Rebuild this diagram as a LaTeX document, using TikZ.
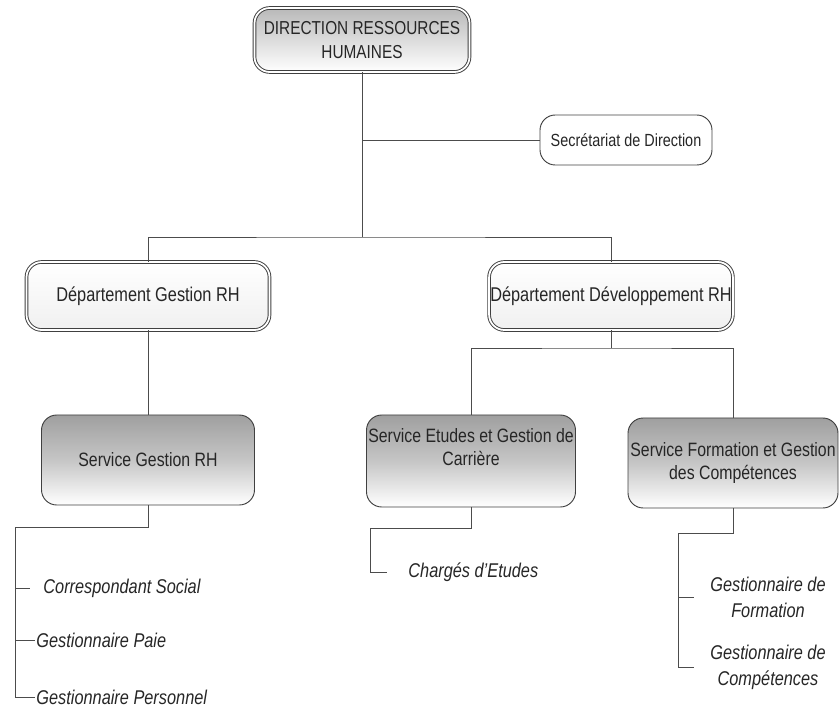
\documentclass[tikz,border=0pt]{standalone}
\usepackage{fontspec}
\setmainfont{Liberation Sans}[FakeStretch=0.82]
\begin{document}
\begin{tikzpicture}[x=0.03cm,y=-0.03cm,
  box/.style={draw=black!75, line width=0.8pt, rounded corners=13pt, align=center, inner sep=1pt,
              font=\fontsize{16.5}{19.5}\selectfont, text=black!85},
  dbox/.style={box, double=white, double distance=1.5pt},
  sbox/.style={box, top color=gray!75, bottom color=white, middle color=gray!45},
  lbl/.style={font=\itshape\fontsize{17}{22}\selectfont, align=center, inner sep=1pt, text=black!85},
  conn/.style={draw=black!70, line width=0.7pt}]
\useasboundingbox (0,0) rectangle (839,713);

% boxes
\node[dbox, minimum width=6.45cm, minimum height=1.92cm, top color=gray!55, bottom color=white,
      font=\fontsize{16}{20}\selectfont] (top) at (362,40) {DIRECTION RESSOURCES\\HUMAINES};
\node[box, minimum width=5.16cm, minimum height=1.5cm, font=\fontsize{15}{18}\selectfont] (sec) at (626,140) {Secrétariat de Direction};
\node[dbox, minimum width=7.29cm, minimum height=2.04cm, top color=white, bottom color=gray!12,
      font=\fontsize{17}{20}\selectfont] (gest) at (148,296) {Département Gestion RH};
\node[dbox, minimum width=7.14cm, minimum height=2.04cm, top color=white, bottom color=gray!12,
      font=\fontsize{17}{20}\selectfont] (dev) at (611,296) {Département Développement RH};
\node[sbox, minimum width=6.39cm, minimum height=2.7cm] (sg) at (148,460) {Service Gestion RH};
\node[sbox, minimum width=6.27cm, minimum height=2.76cm] (se) at (471,461) {Service Etudes et Gestion de\\Carrière\\[4pt]};
\node[sbox, minimum width=6.3cm, minimum height=2.7cm] (sf) at (733,463) {Service Formation et Gestion\\des Compétences};

% labels
\node[lbl, anchor=west] (l1) at (42,588) {Correspondant Social};
\node[lbl, anchor=west] (l2) at (35,640) {Gestionnaire Paie};
\node[lbl, anchor=west] (l3) at (35,697) {Gestionnaire Personnel};
\node[lbl, anchor=west] (ce) at (407,572) {Chargés d'Etudes};
\node[lbl] (g1) at (768,597) {Gestionnaire de\\Formation};
\node[lbl] (g2) at (768,667) {Gestionnaire de\\Compétences};

% junctions
\coordinate (j1) at (362,237);
\coordinate (j2) at (611,348);
\coordinate (b1) at (15,527);
\coordinate (b2) at (370,528);
\coordinate (b3) at (678,533);

% connectors
\draw[conn] (top) -- (j1);
\draw[conn] (sec.west) -- (sec.west -| top.south);
\draw[conn] (gest.north) |- (j1) -| (dev.north);
\draw[conn] (gest.south) -- (sg.north);
\draw[conn] (dev.south) -- (j2);
\draw[conn] (se.north) |- (j2) -| (sf.north);

\draw[conn] (sg.south) |- (b1) |- (l3.west);
\draw[conn, shorten >=0.35cm] (b1 |- l1.west) -- (l1.west);
\draw[conn] (b1 |- l2.west) -- (l2.west);

\draw[conn, shorten >=0.6cm] (se.south) |- (b2) |- (ce.west);

\draw[conn] (sf.south) |- (b3) |- ([xshift=-0.45cm]g2.west);
\draw[conn] (b3 |- g1.west) -- ([xshift=-0.45cm]g1.west);
\end{tikzpicture}
\end{document}
